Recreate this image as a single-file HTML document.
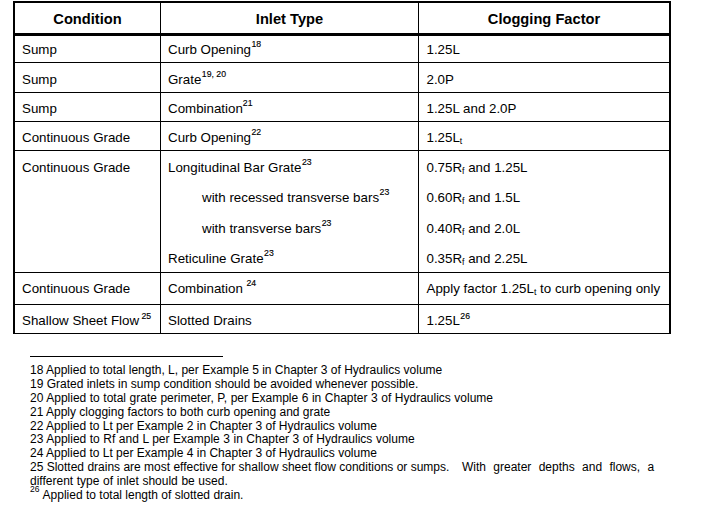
<!DOCTYPE html>
<html><head><meta charset="utf-8"><style>
html,body{margin:0;padding:0;background:#fff;width:713px;height:510px;overflow:hidden;}
body{position:relative;font-family:"Liberation Sans",sans-serif;color:#000;}
.l{position:absolute;background:#000;}
.t{position:absolute;white-space:nowrap;line-height:1;}
.h{position:absolute;text-align:center;font-weight:bold;line-height:1;white-space:nowrap;}
sup{font-size:8.7px;vertical-align:0;position:relative;line-height:0;-webkit-text-stroke:0.15px #000;}
sub{font-size:8.7px;vertical-align:0;position:relative;top:2px;line-height:0;}
</style></head><body>
<div class="l" style="left:13px;top:1px;width:658px;height:2px"></div>
<div class="l" style="left:13px;top:333px;width:658px;height:1px"></div>
<div class="l" style="left:13px;top:1px;width:2px;height:333px"></div>
<div class="l" style="left:669px;top:1px;width:2px;height:333px"></div>
<div class="l" style="left:13px;top:33px;width:658px;height:3px"></div>
<div class="l" style="left:13px;top:62px;width:658px;height:1px"></div>
<div class="l" style="left:13px;top:92px;width:658px;height:1px"></div>
<div class="l" style="left:13px;top:121px;width:658px;height:1px"></div>
<div class="l" style="left:13px;top:150px;width:658px;height:1px"></div>
<div class="l" style="left:13px;top:272px;width:658px;height:1px"></div>
<div class="l" style="left:13px;top:304px;width:658px;height:1px"></div>
<div class="l" style="left:160px;top:1px;width:1px;height:333px"></div>
<div class="l" style="left:418px;top:1px;width:1px;height:333px"></div>
<div class="h" style="left:15px;width:145px;top:11.58px;font-size:14.67px">Condition</div>
<div class="h" style="left:161px;width:257px;top:11.58px;font-size:14.67px">Inlet Type</div>
<div class="h" style="left:419px;width:250px;top:11.58px;font-size:14.67px">Clogging Factor</div>
<div class="t " style="left:22px;top:42.72px;font-size:13.33px;">Sump</div>
<div class="t " style="left:168px;top:42.72px;font-size:13.33px;">Curb Opening<sup style="margin-left:0.5px;top:-7px">18</sup></div>
<div class="t " style="left:426.5px;top:42.72px;font-size:13.33px;">1.25L</div>
<div class="t " style="left:22px;top:72.72px;font-size:13.33px;">Sump</div>
<div class="t " style="left:168px;top:72.72px;font-size:13.33px;">Grate<sup style="margin-left:0.5px;top:-7px">19, 20</sup></div>
<div class="t " style="left:426.5px;top:72.72px;font-size:13.33px;">2.0P</div>
<div class="t " style="left:22px;top:101.72px;font-size:13.33px;">Sump</div>
<div class="t " style="left:168px;top:101.72px;font-size:13.33px;">Combination<sup style="margin-left:0px;top:-7px">21</sup></div>
<div class="t " style="left:426.5px;top:101.72px;font-size:13.33px;">1.25L and 2.0P</div>
<div class="t " style="left:22px;top:130.72px;font-size:13.33px;">Continuous Grade</div>
<div class="t " style="left:168px;top:130.72px;font-size:13.33px;">Curb Opening<sup style="margin-left:0.5px;top:-7px">22</sup></div>
<div class="t " style="left:426.5px;top:130.72px;font-size:13.33px;">1.25L<sub>t</sub></div>
<div class="t " style="left:22px;top:160.72px;font-size:13.33px;">Continuous Grade</div>
<div class="t " style="left:168px;top:160.72px;font-size:13.33px;">Longitudinal Bar Grate<sup style="margin-left:0.5px;top:-7px">23</sup></div>
<div class="t " style="left:426.5px;top:160.72px;font-size:13.33px;">0.75R<sub>f</sub> and 1.25L</div>
<div class="t " style="left:202px;top:190.72px;font-size:13.33px;">with recessed transverse bars<sup style="margin-left:0.5px;top:-7px">23</sup></div>
<div class="t " style="left:426.5px;top:190.72px;font-size:13.33px;">0.60R<sub>f</sub> and 1.5L</div>
<div class="t " style="left:202px;top:221.72px;font-size:13.33px;">with transverse bars<sup style="margin-left:0.5px;top:-7px">23</sup></div>
<div class="t " style="left:426.5px;top:221.72px;font-size:13.33px;">0.40R<sub>f</sub> and 2.0L</div>
<div class="t " style="left:168px;top:251.72px;font-size:13.33px;">Reticuline Grate<sup style="margin-left:0.5px;top:-7px">23</sup></div>
<div class="t " style="left:426.5px;top:251.72px;font-size:13.33px;">0.35R<sub>f</sub> and 2.25L</div>
<div class="t " style="left:22px;top:281.72px;font-size:13.33px;">Continuous Grade</div>
<div class="t " style="left:168px;top:281.72px;font-size:13.33px;">Combination <sup style="margin-left:0px;top:-7px">24</sup></div>
<div class="t " style="left:426.5px;top:281.72px;font-size:13.33px;">Apply factor 1.25L<sub>t</sub> to curb opening only</div>
<div class="t " style="left:22px;top:313.72px;font-size:13.33px;">Shallow Sheet Flow<sup style="margin-left:0px;top:-6px">&nbsp;25</sup></div>
<div class="t " style="left:168px;top:313.72px;font-size:13.33px;">Slotted Drains</div>
<div class="t " style="left:426.5px;top:313.72px;font-size:13.33px;">1.25L<sup style="margin-left:0.5px;top:-6px">26</sup></div>
<div class="l" style="left:30px;top:356px;width:193px;height:1px"></div>
<div class="t " style="left:30px;top:363.84px;font-size:12px;">18 Applied to total length, L, per Example 5 in Chapter 3 of Hydraulics volume</div>
<div class="t " style="left:30px;top:377.84px;font-size:12px;">19 Grated inlets in sump condition should be avoided whenever possible.</div>
<div class="t " style="left:30px;top:391.84px;font-size:12px;word-spacing:0.2px;">20 Applied to total grate perimeter, P, per Example 6 in Chapter 3 of Hydraulics volume</div>
<div class="t " style="left:30px;top:405.84px;font-size:12px;">21 Apply clogging factors to both curb opening and grate</div>
<div class="t " style="left:30px;top:419.84px;font-size:12px;">22 Applied to Lt per Example 2 in Chapter 3 of Hydraulics volume</div>
<div class="t " style="left:30px;top:432.84px;font-size:12px;word-spacing:0.2px;">23 Applied to Rf and L per Example 3 in Chapter 3 of Hydraulics volume</div>
<div class="t " style="left:30px;top:446.84px;font-size:12px;">24 Applied to Lt per Example 4 in Chapter 3 of Hydraulics volume</div>
<div class="t " style="left:30px;top:460.84px;font-size:12px;">25 Slotted drains are most effective for shallow sheet flow conditions or sumps.</div>
<div class="t " style="left:462px;top:460.84px;font-size:12px;word-spacing:4px;">With greater depths and flows, a</div>
<div class="t " style="left:30px;top:474.84px;font-size:12px;word-spacing:0.3px;">different type of inlet should be used.</div>
<div class="t " style="left:30px;top:485.30px;font-size:8.5px;">26</div>
<div class="t " style="left:42.6px;top:488.84px;font-size:12px;">Applied to total length of slotted drain.</div>
</body></html>
